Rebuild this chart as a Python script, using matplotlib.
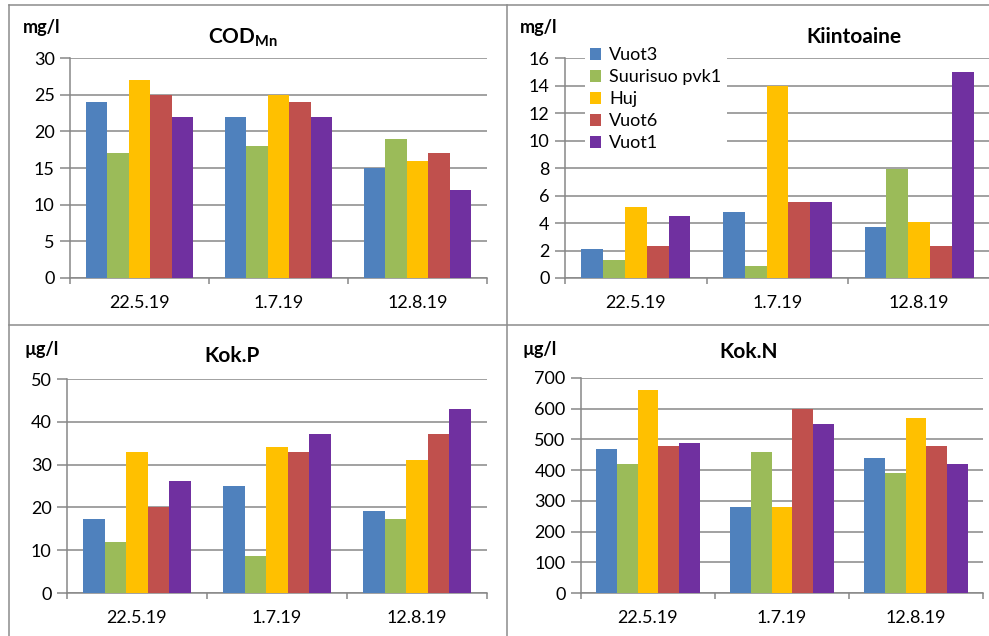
import numpy as np
import matplotlib
matplotlib.use('Agg')
import matplotlib.pyplot as plt
from matplotlib.lines import Line2D

plt.rcParams['font.family'] = ['Lato', 'DejaVu Sans']
plt.rcParams['mathtext.fontset'] = 'custom'
plt.rcParams['mathtext.rm'] = 'Lato'
plt.rcParams['mathtext.bf'] = 'Lato:bold'

# data
dates = ['22.5.19', '1.7.19', '12.8.19']
series = ['Vuot3', 'Suurisuo pvk1', 'Huj', 'Vuot6', 'Vuot1']
colors = ['#4F81BD', '#9BBB59', '#FFC000', '#C0504D', '#7030A0']

cod = [[24, 22, 15],
       [17, 18, 19],
       [27, 25, 16],
       [25, 24, 17],
       [22, 22, 12]]
kiintoaine = [[2.1, 4.8, 3.7],
              [1.3, 0.9, 7.9],
              [5.2, 14.0, 4.1],
              [2.3, 5.5, 2.3],
              [4.5, 5.5, 15.0]]
kok_p = [[17.2, 25, 19.2],
         [12, 8.7, 17.2],
         [33, 34, 31],
         [20, 33, 37.2],
         [26.2, 37.2, 43]]
kok_n = [[470, 280, 440],
         [420, 460, 390],
         [660, 280, 570],
         [480, 600, 480],
         [490, 550, 420]]

W, H = 989, 636
fig = plt.figure(figsize=(W / 100, H / 100), dpi=100)
fig.patch.set_facecolor('white')

GRAY = '#878787'


def px_axes(x0, y0, x1, y1):
    return fig.add_axes([x0 / W, 1 - y1 / H, (x1 - x0) / W, (y1 - y0) / H])


def bar_panel(rect, data, ymax, step):
    ax = px_axes(*rect)
    n = len(series)
    width = 0.77 / n
    x = np.arange(len(dates))
    for i, vals in enumerate(data):
        ax.bar(x - 0.385 + width * (i + 0.5), vals, width,
               color=colors[i], label=series[i], zorder=3, linewidth=0)
    ax.set_xlim(-0.5, len(dates) - 0.5)
    ax.set_ylim(0, ymax)
    ax.set_yticks(np.arange(0, ymax + step / 2, step))
    ax.yaxis.grid(True, color=GRAY, linewidth=1.1)
    ax.set_axisbelow(True)
    for s in ['top', 'right']:
        ax.spines[s].set_visible(False)
    for s in ['left', 'bottom']:
        ax.spines[s].set_color(GRAY)
        ax.spines[s].set_linewidth(1.1)
    ax.set_xticks(x)
    ax.set_xticklabels(dates)
    ax.set_xticks(np.arange(-0.5, len(dates)), minor=True)
    ax.tick_params(axis='x', which='major', length=0, pad=12, labelsize=13)
    ax.tick_params(axis='x', which='minor', length=4, color=GRAY, width=1.1)
    ax.tick_params(axis='y', length=7, color=GRAY, width=1.1, pad=4, labelsize=13)
    return ax


ax1 = bar_panel((70, 58, 487, 278), cod, 30, 5)
ax2 = bar_panel((565, 58, 990, 278), kiintoaine, 16, 2)
ax3 = bar_panel((67, 379, 487, 593), kok_p, 50, 10)
ax4 = bar_panel((581, 378, 983, 593), kok_n, 700, 100)

leg = ax2.legend(loc='upper left', bbox_to_anchor=(576 / W, 1 - 33 / H),
                 bbox_transform=fig.transFigure, fontsize=13,
                 frameon=True, facecolor='white', edgecolor='none', framealpha=1,
                 handlelength=0.6, handleheight=0.6, handletextpad=0.45,
                 labelspacing=0.33, borderpad=0.3, fancybox=False)
leg.set_zorder(5)


def ftext(x, y, s, **kw):
    fig.text(x / W, 1 - y / H, s, **kw)


# panel titles
ftext(243, 38, r'$\mathbf{COD_{Mn}}$', ha='center', va='center', fontsize=15)
ftext(854, 37, 'Kiintoaine', ha='center', va='center', fontsize=15, fontweight='bold')
ftext(232, 356, 'Kok.P', ha='center', va='center', fontsize=15, fontweight='bold')
ftext(749, 352, 'Kok.N', ha='center', va='center', fontsize=15, fontweight='bold')

# unit labels
ftext(23, 28, 'mg/l', ha='left', va='center', fontsize=13, fontweight='bold')
ftext(520, 28, 'mg/l', ha='left', va='center', fontsize=13, fontweight='bold')
ftext(24, 350, 'µg/l', ha='left', va='center', fontsize=13, fontweight='bold')
ftext(522, 350, 'µg/l', ha='left', va='center', fontsize=13, fontweight='bold')

# chart borders
border = dict(color='#8c8c8c', linewidth=1.1, transform=fig.transFigure)
fig.add_artist(Line2D([9 / W, 1], [1 - 5 / H] * 2, **border))
fig.add_artist(Line2D([9 / W, 1], [1 - 325 / H] * 2, **border))
fig.add_artist(Line2D([9 / W] * 2, [0, 1 - 5 / H], **border))
fig.add_artist(Line2D([507 / W] * 2, [0, 1 - 5 / H], **border))

fig.savefig('out.png', dpi=100)
